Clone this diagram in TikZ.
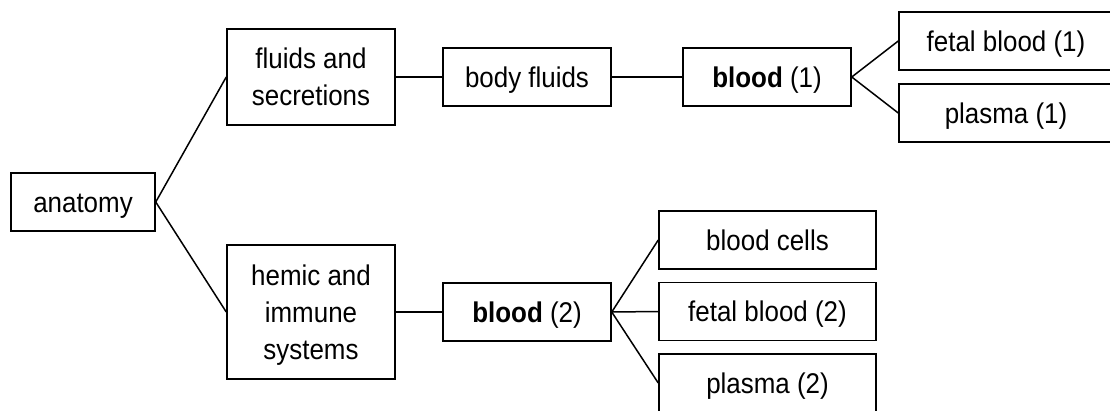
\documentclass[tikz,border=0pt]{standalone}
\usepackage{graphicx}
\usepackage{fontspec}
\setmainfont{Liberation Sans}
\newcommand\mytbox[2]{\raisebox{0pt}[#1pt][0pt]{\scalebox{0.91}[1]{\begin{tabular}[b]{@{}c@{}}#2\end{tabular}}}}
\begin{document}
\begin{tikzpicture}[x=1pt,y=-1pt,
  box/.style={draw=black,line width=1.5pt,inner sep=0pt,
    font=\fontsize{28.5}{37}\selectfont},
  link/.style={draw=black,line width=1.5pt}]
\useasboundingbox (0,0) rectangle (1110,410);
\clip (0,0) rectangle (1110,410);
\node[box,minimum width=144pt,minimum height=58pt] (anat) at (83,202) {\mytbox{20.5}{anatomy}};
\node[box,minimum width=168pt,minimum height=96pt] (fluids) at (311,77) {\mytbox{57.5}{fluids and\\secretions}};
\node[box,minimum width=168pt,minimum height=134pt] (hemic) at (311,312) {\mytbox{94.5}{hemic and\\immune\\systems}};
\node[box,minimum width=168pt,minimum height=58pt] (body) at (527,77) {\mytbox{20.5}{body fluids}};
\node[box,minimum width=168pt,minimum height=58pt] (bloodA) at (767,77) {\mytbox{20.5}{\textbf{blood} (1)}};
\node[box,minimum width=214pt,minimum height=58pt] (fetalA) at (1006,41) {\mytbox{20.5}{fetal blood (1)}};
\node[box,minimum width=214pt,minimum height=58pt] (plasmaA) at (1006,113) {\mytbox{20.5}{plasma (1)}};
\node[box,minimum width=168pt,minimum height=58pt] (bloodB) at (527,312) {\mytbox{20.5}{\textbf{blood} (2)}};
\node[box,minimum width=217pt,minimum height=58pt] (cells) at (767.5,240) {\mytbox{20.5}{blood cells}};
\node[box,minimum width=217pt,minimum height=58pt] (fetalB) at (767.5,311.5) {\mytbox{20.5}{fetal blood (2)}};
\node[box,minimum width=217pt,minimum height=58pt] (plasmaB) at (767.5,383) {\mytbox{20.5}{plasma (2)}};
\draw[link] (anat.east) -- (fluids.west);
\draw[link] (anat.east) -- (hemic.west);
\draw[link] (fluids.east) -- (body.west);
\draw[link] (body.east) -- (bloodA.west);
\draw[link] (bloodA.east) -- (fetalA.west);
\draw[link] (bloodA.east) -- (plasmaA.west);
\draw[link] (hemic.east) -- (bloodB.west);
\draw[link] (bloodB.east) -- (cells.west);
\draw[link] (bloodB.east) -- (fetalB.west);
\draw[link] (bloodB.east) -- (plasmaB.west);
\end{tikzpicture}
\end{document}
